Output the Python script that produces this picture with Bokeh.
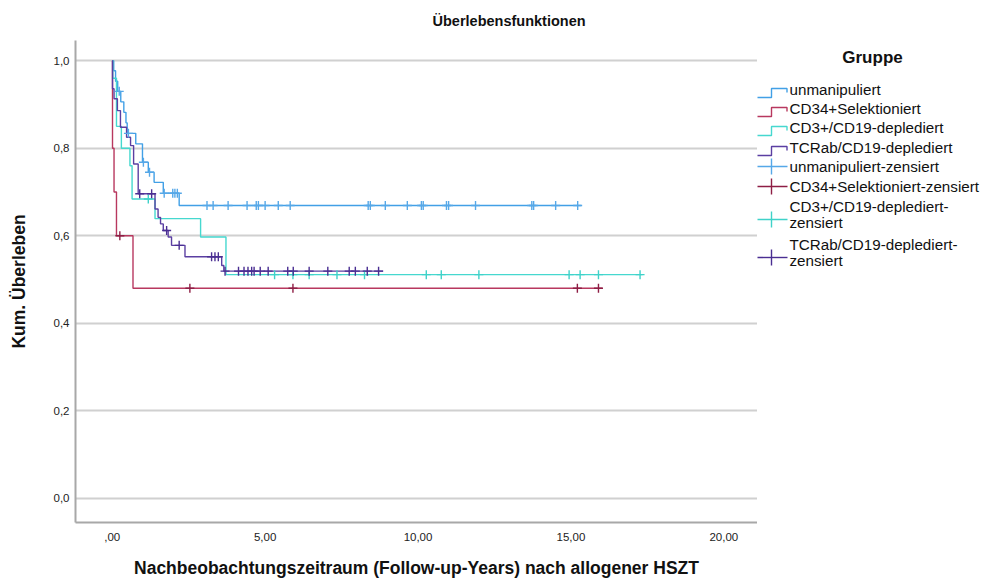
from bokeh.plotting import figure
from bokeh.models import Range1d, FixedTicker
from bokeh.layouts import row
from bokeh.core.properties import value
from bokeh.embed import file_html
from bokeh.resources import INLINE

DEPL = "depl" + "ediert"

# ---------------- data (years, cumulative survival) ----------------
groups = ["unmanipuliert", "CD34+Selektioniert", "CD3+/CD19-" + DEPL, "TCRab/CD19-" + DEPL]

# unmanipuliert
unm_t = [0.05, 0.11, 0.18, 0.28, 0.38, 0.45, 0.49, 0.77, 0.99, 1.18, 1.37, 1.67, 2.19]
unm_s = [0.977, 0.953, 0.930, 0.906, 0.882, 0.858, 0.834, 0.810, 0.768, 0.745, 0.722, 0.697, 0.669]
unm_end = 15.34
unm_cens = [0.23, 0.53, 1.02, 1.22, 1.70, 1.98, 2.05, 2.13, 3.10, 3.30, 3.79, 4.41, 4.71, 4.78,
            5.00, 5.43, 5.82, 8.37, 8.44, 8.93, 9.65, 10.11, 10.17, 10.93, 11.00, 11.88, 13.72,
            13.78, 14.50, 15.22]

# CD34+ selektioniert
cd34_t = [0.01, 0.06, 0.14, 0.68]
cd34_s = [0.80, 0.70, 0.60, 0.48]
cd34_end = 16.03
cd34_cens = [0.25, 2.54, 5.91, 15.21, 15.90]

# CD3+/CD19- depletiert
cd3_t = [0.02, 0.14, 0.30, 0.58, 0.65, 1.40, 2.89, 3.72]
cd3_s = [0.96, 0.85, 0.80, 0.76, 0.684, 0.639, 0.597, 0.511]
cd3_end = 17.34
cd3_cens = [1.18, 5.31, 5.91, 6.44, 7.35, 8.25, 10.27, 10.76, 11.99, 14.94, 15.30, 15.90, 17.26]

# TCRab/CD19- depletiert
tcr_t = [0.01, 0.06, 0.17, 0.27, 0.47, 0.60, 0.70, 0.85, 1.40, 1.50, 1.58, 1.67, 1.83, 1.94,
         2.38, 3.58, 3.65]
tcr_s = [0.936, 0.913, 0.886, 0.848, 0.825, 0.806, 0.764, 0.696, 0.661, 0.642, 0.627, 0.612,
         0.597, 0.578, 0.552, 0.532, 0.519]
tcr_end = 8.86
tcr_cens = [0.90, 1.29, 1.78, 2.19, 3.25, 3.36, 3.47, 3.69, 4.13, 4.31, 4.44, 4.56, 4.64, 4.84,
            5.10, 5.74, 5.92, 6.44, 7.05, 7.75, 7.95, 8.34, 8.71]

x_ticks = [0, 5, 10, 15, 20]
x_tick_labels = [",00", "5,00", "10,00", "15,00", "20,00"]
y_ticks = [0.0, 0.2, 0.4, 0.6, 0.8, 1.0]
y_tick_labels = ["0,0", "0,2", "0,4", "0,6", "0,8", "1,0"]

line_colors = ["#42A0E6", "#B8385F", "#46D8CF", "#5B3FA2"]
cens_colors = ["#56A8E8", "#8E1E45", "#3FD2C9", "#4A2E92"]

FONT = "Liberation Sans"
TOP, BOTTOM = 40, 61

# ---------------- main plot ----------------
p = figure(width=757, height=583, x_range=Range1d(-1.2, 21.1), y_range=Range1d(-0.0555, 1.0462),
           toolbar_location=None, output_backend="svg",
           min_border_left=75, min_border_right=0, min_border_top=TOP, min_border_bottom=BOTTOM)
p.outline_line_color = None
p.background_fill_color = "white"
p.border_fill_color = "white"

p.title.text = "Überlebensfunktionen"
p.title.align = "left"
p.title.offset = 357
p.title.vertical_align = "middle"
p.title.standoff = 21
p.title.text_font = FONT
p.title.text_font_style = "bold"
p.title.text_font_size = "14.5px"
p.title.text_color = "#111111"

p.xaxis.ticker = FixedTicker(ticks=x_ticks)
p.xaxis.major_label_overrides = {t: l for t, l in zip(x_ticks, x_tick_labels)}
p.yaxis.ticker = FixedTicker(ticks=y_ticks)
p.yaxis.major_label_overrides = {t: l for t, l in zip(y_ticks, y_tick_labels)}

for ax in (p.xaxis, p.yaxis):
    ax.axis_line_color = "#A8A8A8"
    ax.axis_line_width = 2
    ax.major_tick_line_color = None
    ax.minor_tick_line_color = None
    ax.major_tick_out = 0
    ax.major_tick_in = 0
    ax.major_label_text_font = FONT
    ax.major_label_text_font_size = "11.5px"
    ax.major_label_text_color = "#222222"
    ax.axis_label_text_font = FONT
    ax.axis_label_text_font_style = "bold"
    ax.axis_label_text_font_size = "17.5px"
    ax.axis_label_text_color = "#111111"

p.xaxis.axis_label = "Nachbeobachtungszeitraum (Follow-up-Years) nach allogener HSZT"
p.yaxis.axis_label = "Kum. Überleben"
p.xaxis.major_label_standoff = 10
p.xaxis.axis_label_standoff = 14
p.yaxis.major_label_standoff = 6
p.yaxis.axis_label_standoff = 22

p.xgrid.grid_line_color = None
p.ygrid.grid_line_color = "#D0D0D0"
p.ygrid.grid_line_width = 2


def km_level(t, times, surv):
    lvl = 1.0
    for tt, ss in zip(times, surv):
        if tt <= t:
            lvl = ss
    return lvl


series = [
    (unm_t, unm_s, unm_end, unm_cens),
    (cd34_t, cd34_s, cd34_end, cd34_cens),
    (cd3_t, cd3_s, cd3_end, cd3_cens),
    (tcr_t, tcr_s, tcr_end, tcr_cens),
]

for (t, s, end, _), col in zip(series, line_colors):
    xs = [0.0] + t + [end]
    ys = [1.0] + s + [s[-1]]
    p.step(xs, ys, mode="after", line_color=col, line_width=1.4)

for (t, s, end, cens), col in zip(series, cens_colors):
    cy = [km_level(c, t, s) for c in cens]
    p.scatter(cens, cy, marker="cross", size=9, line_color=col, line_width=1.4)

# ---------------- legend panel (page pixel coordinates) ----------------
leg = figure(width=227, height=583, x_range=Range1d(757, 984), y_range=Range1d(522, 40),
             toolbar_location=None, output_backend="svg", x_axis_type=None, y_axis_type=None,
             min_border_left=0, min_border_right=0, min_border_top=TOP, min_border_bottom=BOTTOM)
leg.outline_line_color = None
leg.grid.visible = False
leg.background_fill_color = "white"
leg.border_fill_color = "white"

leg.text(x=[872], y=[57], text=["Gruppe"], text_font=value(FONT), text_font_style="bold",
         text_font_size="17px", text_align="center", text_baseline="middle", text_color="#111111")

LEG_SIZE = "15.2px"
row_y = [89, 108, 127, 147]
for yc, col, name in zip(row_y, line_colors, groups):
    leg.line([756, 771, 771, 786.5, 786.5], [yc + 8, yc + 8, yc - 1, yc - 1, yc + 3],
             line_color=col, line_width=1.4)
    leg.text(x=[789], y=[yc], text=[name], text_font=value(FONT), text_font_size=LEG_SIZE,
             text_align="left", text_baseline="middle", text_color="#111111")

cens_rows = [
    (166, ["unmanipuliert-zensiert"], 166),
    (186, ["CD34+Selektioniert-zensiert"], 186),
    (206, ["CD3+/CD19-" + DEPL + "-", "zensiert"], 219),
    (244, ["TCRab/CD19-" + DEPL + "-", "zensiert"], 257),
]
for (yt, lines, ycross), col in zip(cens_rows, cens_colors):
    leg.segment(x0=[756, 771], y0=[ycross, ycross - 8], x1=[787, 771], y1=[ycross, ycross + 8],
                line_color=col, line_width=1.4)
    for i, ln in enumerate(lines):
        leg.text(x=[789], y=[yt + 16 * i], text=[ln], text_font=value(FONT),
                 text_font_size=LEG_SIZE, text_align="left", text_baseline="middle",
                 text_color="#111111")

layout = row(p, leg)
open("out.html", "w").write(file_html(layout, INLINE))
